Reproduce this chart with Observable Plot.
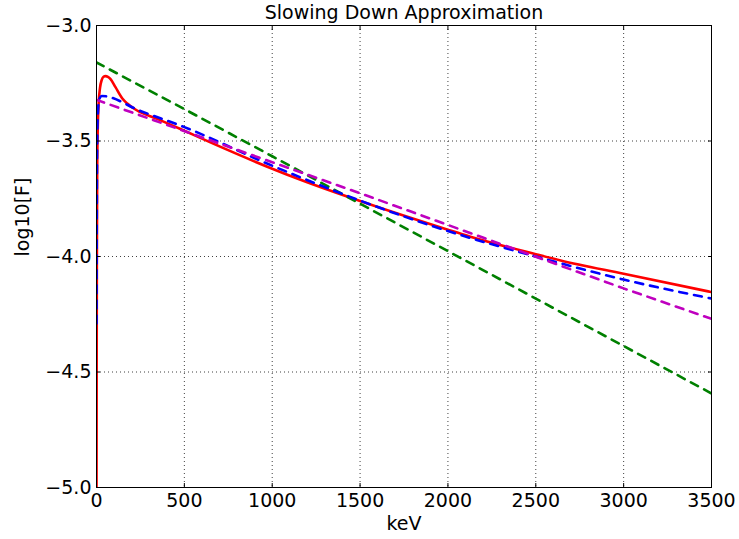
<!DOCTYPE html>
<html>
<head>
<meta charset="utf-8">
<script src="https://cdn.jsdelivr.net/npm/d3@7"></script>
<script src="https://cdn.jsdelivr.net/npm/@observablehq/plot@0.6"></script>
<style>
  html, body { margin: 0; padding: 0; background: #fff; }
  svg { display: block; }
</style>
</head>
<body>
<div id="chart"></div>
<script>
const title = "Slowing Down Approximation";
const xLabel = "keV";
const yLabel = "log10[F]";
const xTicks = [0, 500, 1000, 1500, 2000, 2500, 3000, 3500];
const yTicks = [-5.0, -4.5, -4.0, -3.5, -3.0];

// Red (solid) curve
const redE = [0.2, 1, 2, 4, 7, 12, 20, 30, 40, 51, 65, 80, 108, 146, 175, 231, 345, 478, 645, 1000, 1161, 1500, 2000, 2128, 2500, 2641, 3000, 3500];
const redF = [-5.0, -4.5, -4.05, -3.62, -3.45, -3.34, -3.27, -3.235, -3.222, -3.219, -3.222, -3.232, -3.267, -3.315, -3.338, -3.368, -3.404, -3.448, -3.505, -3.62, -3.668, -3.76, -3.884, -3.914, -3.99, -4.017, -4.075, -4.154];

// Blue (dashed) curve
const blueE = [0.3, 1, 2, 4, 8, 15, 30, 250, 500, 1000, 1500, 2000, 2500, 3000, 3500];
const blueF = [-4.29, -3.95, -3.7, -3.5, -3.38, -3.32, -3.305, -3.37, -3.44, -3.607, -3.758, -3.89, -4.0, -4.1, -4.182];

// Green (dashed) line
const greenE = [0, 500, 1000, 3500];
const greenF = [-3.16, -3.362, -3.566, -4.593];

// Magenta (dashed) line
const magentaE = [0, 1000, 1500, 2500, 3000, 3500];
const magentaF = [-3.322, -3.592, -3.726, -4.001, -4.138, -4.27];

const toRows = (E, F) => E.map((e, i) => ({E: e, F: F[i]}));
const red = toRows(redE, redF);
const blue = toRows(blueE, blueF);
const green = toRows(greenE, greenF);
const magenta = toRows(magentaE, magentaF);

const font = "'DejaVu Sans', sans-serif";
const dash = "8,7";
const fs = 19;

const chart = Plot.plot({
  width: 739,
  height: 539,
  marginLeft: 96,
  marginRight: 28,
  marginTop: 25,
  marginBottom: 52,
  style: {fontFamily: font, fontSize: fs + "px", color: "#000", background: "#fff"},
  x: {domain: [0, 3500]},
  y: {domain: [-5, -3]},
  marks: [
    Plot.gridX(xTicks, {stroke: "#000", strokeOpacity: 0.75, strokeDasharray: "1,3", strokeWidth: 1}),
    Plot.gridY(yTicks, {stroke: "#000", strokeOpacity: 0.75, strokeDasharray: "1,3", strokeWidth: 1}),
    Plot.line(red, {x: "E", y: "F", stroke: "#ff0000", strokeWidth: 2.6, curve: "monotone-x", clip: true}),
    Plot.line(green, {x: "E", y: "F", stroke: "#008000", strokeWidth: 2.6, strokeDasharray: dash, clip: true}),
    Plot.line(blue, {x: "E", y: "F", stroke: "#0000ff", strokeWidth: 2.6, strokeDasharray: dash, curve: "monotone-x", clip: true}),
    Plot.line(magenta, {x: "E", y: "F", stroke: "#bf00bf", strokeWidth: 2.6, strokeDasharray: dash, clip: true}),
    Plot.frame({stroke: "#000", strokeWidth: 1}),
    // inward ticks on all sides
    Plot.axisX(xTicks, {anchor: "bottom", tickSize: -4, tickFormat: () => "", label: null}),
    Plot.axisX(xTicks, {anchor: "top", tickSize: -4, tickFormat: () => "", label: null}),
    Plot.axisY(yTicks, {anchor: "left", tickSize: -4, tickFormat: () => "", label: null}),
    Plot.axisY(yTicks, {anchor: "right", tickSize: -4, tickFormat: () => "", label: null}),
    // tick labels
    Plot.axisX(xTicks, {anchor: "bottom", tickSize: 0, tickPadding: 6, tickFormat: d3.format("d"), fontSize: fs, label: null}),
    Plot.axisY(yTicks, {anchor: "left", tickSize: 0, tickPadding: 5, tickFormat: d3.format(".1f"), fontSize: fs, label: null}),
    // titles
    Plot.text([title], {frameAnchor: "top", dy: -13, lineAnchor: "middle", fontSize: fs, text: d => d}),
    Plot.text([xLabel], {frameAnchor: "bottom", dy: 36, lineAnchor: "middle", fontSize: fs, text: d => d}),
    Plot.text([yLabel], {frameAnchor: "left", dx: -74, rotate: -90, lineAnchor: "middle", fontSize: fs, text: d => d})
  ]
});
document.getElementById("chart").appendChild(chart);
</script>
</body>
</html>
